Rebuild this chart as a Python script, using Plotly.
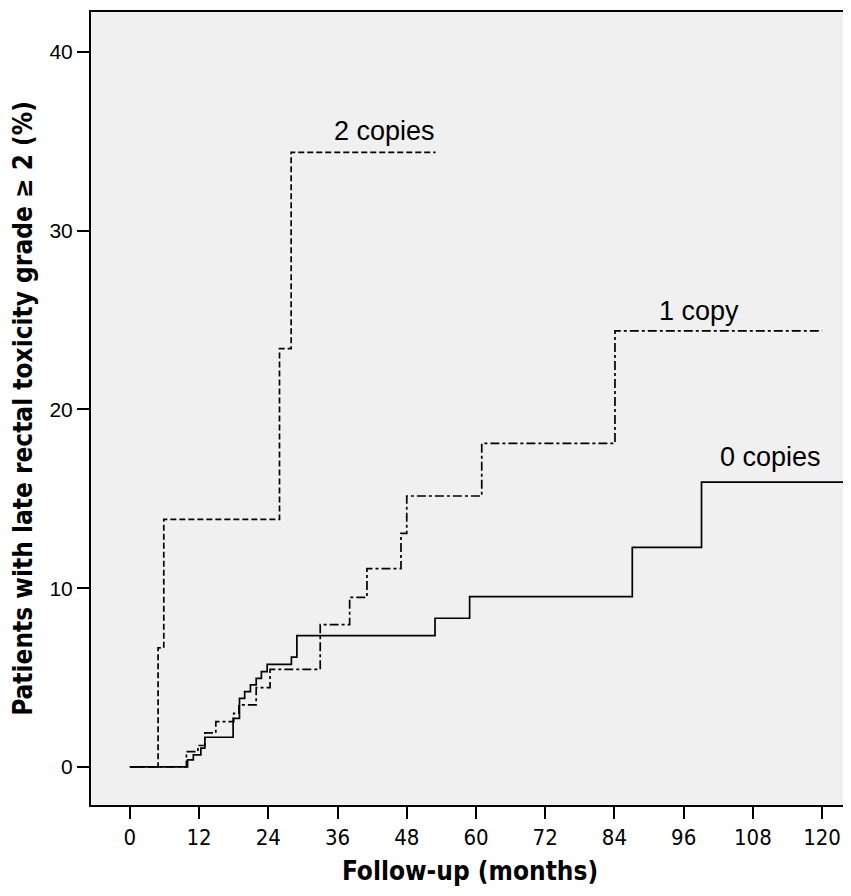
import plotly.graph_objects as go

# Follow-up months (step change points) and cumulative incidence (%)
zero_x = [0, 10.0, 11.0, 12.3, 13.0, 17.9, 19.0, 19.9, 20.9, 21.9, 22.8, 23.8, 28.0, 28.95, 52.9, 58.9, 87.1, 99.1, 126]
zero_y = [0, 0.39, 0.67, 1.05, 1.66, 2.72, 3.84, 4.21, 4.59, 4.96, 5.33, 5.74, 6.14, 7.35, 8.32, 9.53, 12.29, 15.93, 15.93]

one_x = [0, 9.8, 11.8, 13.0, 14.9, 18.0, 18.9, 21.9, 24.3, 33.0, 38.1, 41.1, 47.0, 48.0, 61.0, 84.1, 120]
one_y = [0, 0.86, 1.2, 1.9, 2.54, 3.0, 3.47, 4.44, 5.46, 7.96, 9.49, 11.1, 13.07, 15.16, 18.1, 24.4, 24.4]

two_x = [0, 4.89, 5.88, 25.94, 27.96, 53.0]
two_y = [0, 6.66, 13.85, 23.4, 34.39, 34.39]

labels = ["0 copies", "1 copy", "2 copies"]
label_x = [111.0, 98.6, 44.1]
label_y = [17.35, 25.5, 35.6]

x_ticks = [0, 12, 24, 36, 48, 60, 72, 84, 96, 108, 120]
y_ticks = [0, 10, 20, 30, 40]

NARROW = "Liberation Sans Narrow, Arial Narrow, DejaVu Sans Condensed, sans-serif"
SANS = "Liberation Sans, Arial, sans-serif"

fig = go.Figure()
fig.add_trace(go.Scatter(x=zero_x, y=zero_y, mode="lines", line_shape="hv",
                         line=dict(color="black", width=1.7), name=labels[0]))
fig.add_trace(go.Scatter(x=one_x, y=one_y, mode="lines", line_shape="hv",
                         line=dict(color="black", width=1.7, dash="9px,3px,3px,3px"), name=labels[1]))
fig.add_trace(go.Scatter(x=two_x, y=two_y, mode="lines", line_shape="hv",
                         line=dict(color="black", width=1.7, dash="6px,3px"), name=labels[2]))

for t, xx, yy in zip(labels, label_x, label_y):
    fig.add_annotation(x=xx, y=yy, text=t, showarrow=False, xref="x", yref="y",
                       font=dict(family=SANS, size=27, color="black"))

# page body has an 8px margin; figure sized so the plot lands where the reference has it
fig.update_layout(
    width=843, height=880,
    margin=dict(l=83, r=0, t=4, b=83),
    paper_bgcolor="white", plot_bgcolor="#F0F0F0",
    showlegend=False,
    font=dict(family=SANS, color="black"),
)
fig.update_xaxes(
    range=[-6.74, 124.67], tickvals=x_ticks, ticktext=[str(v) for v in x_ticks],
    showgrid=False, zeroline=False, showline=True, linecolor="black", linewidth=2, mirror=True,
    ticks="outside", ticklen=12, tickwidth=1.5, tickcolor="black",
    tickfont=dict(family=NARROW, size=22),
    title=dict(text="<b>Follow-up (months)</b>", standoff=12,
               font=dict(family=NARROW, size=26)),
)
fig.update_yaxes(
    range=[-2.13, 42.24], tickvals=y_ticks, ticktext=[str(v) for v in y_ticks],
    showgrid=False, zeroline=False, showline=True, linecolor="black", linewidth=2, mirror=True,
    ticks="outside", ticklen=12, tickwidth=1.5, tickcolor="black",
    tickfont=dict(family=SANS, size=21),
    title=dict(text="<b>Patients with late rectal toxicity grade ≥ 2 (%)</b>", standoff=18,
               font=dict(family=NARROW, size=26)),
)

fig.write_html("out.html")
